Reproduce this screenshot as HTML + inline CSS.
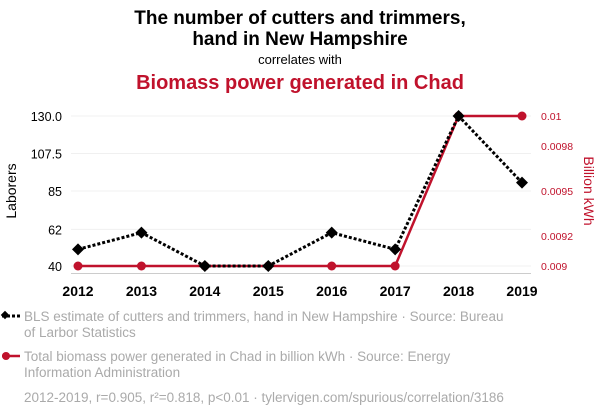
<!DOCTYPE html>
<html><head><meta charset="utf-8"><style>
body{margin:0;background:#fff;font-family:"Liberation Sans",sans-serif;}
#wrap{position:relative;width:600px;height:414px;overflow:hidden;}
</style></head><body>
<div id="wrap">
<svg id="chart" width="600" height="414">
<text x="300" y="24" text-anchor="middle" font-size="19" font-weight="bold" fill="#000">The number of cutters and trimmers,</text>
<text x="300" y="45" text-anchor="middle" font-size="19" font-weight="bold" fill="#000">hand in New Hampshire</text>
<text x="300" y="64" text-anchor="middle" font-size="13" fill="#000">correlates with</text>
<text x="300" y="89" text-anchor="middle" font-size="20" font-weight="bold" fill="#c0122c">Biomass power generated in Chad</text>
<g id="grid"></g><g id="axes"></g><g id="marks"></g>
<text transform="translate(16,191) rotate(-90)" text-anchor="middle" font-size="14" fill="#000">Laborers</text>
<text transform="translate(584,191) rotate(90)" text-anchor="middle" font-size="14" fill="#c0122c">Billion kWh</text>
<g>
<line x1="2" y1="316" x2="20" y2="316" stroke="#000" stroke-width="3" stroke-dasharray="3,2"/>
<rect x="2" y="312" width="6" height="6" transform="rotate(45 5 315)" fill="#000"/>
<text x="24" y="321" font-size="13.5" fill="#aaa">BLS estimate of cutters and trimmers, hand in New Hampshire · Source: Bureau</text>
<text x="24" y="337" font-size="13.5" fill="#aaa">of Larbor Statistics</text>
</g>
<g>
<line x1="2" y1="356" x2="20" y2="356" stroke="#c0122c" stroke-width="2.5"/>
<circle cx="6" cy="356" r="4" fill="#c0122c"/>
<text x="24" y="361" font-size="13.5" fill="#aaa">Total biomass power generated in Chad in billion kWh · Source: Energy</text>
<text x="24" y="377" font-size="13.5" fill="#aaa">Information Administration</text>
</g>
<text x="24" y="402" font-size="13.5" fill="#aaa">2012-2019, r=0.905, r²=0.818, p&lt;0.01 · tylervigen.com/spurious/correlation/3186</text>
</svg></div>
<script>
const years=[2012,2013,2014,2015,2016,2017,2018,2019];
const laborers=[50,60,40,40,60,50,130,90];
const biomass=[0.009,0.009,0.009,0.009,0.009,0.009,0.01,0.01];
const leftTicks=[40,62,85,107.5,130];
const leftTickLabels=["40","62","85","107.5","130.0"];
const rightTicks=[0.009,0.0092,0.0095,0.0098,0.01];
const rightTickLabels=["0.009","0.0092","0.0095","0.0098","0.01"];
const NS="http://www.w3.org/2000/svg";
const x=i=>78+i*(522-78)/(years.length-1);
const yL=v=>266-(v-40)/(130-40)*150;
const yR=v=>266-(v-0.009)/(0.01-0.009)*150;
function mk(t,a,p){const e=document.createElementNS(NS,t);for(const k in a)e.setAttribute(k,a[k]);p.appendChild(e);return e;}
const grid=document.getElementById('grid'),axes=document.getElementById('axes'),marks=document.getElementById('marks');
leftTicks.forEach((v,i)=>{
 const g=mk('line',{x1:71,x2:531,y1:yL(v),y2:yL(v),stroke:'#f0f0f0','stroke-width':1},grid);
 
 
 const t=mk('text',{x:62,y:yL(v)+5,'text-anchor':'end','font-size':12.5,fill:'#000'},axes);
 t.textContent=leftTickLabels[i];
 
 
});
rightTicks.forEach((v,i)=>{
 const t=mk('text',{x:541,y:yR(v)+4,'font-size':10.5,fill:'#c0122c'},axes);
 t.textContent=rightTickLabels[i];
 
 
});
const ax=mk('line',{x1:71,x2:531,y1:273.5,y2:273.5,stroke:'#ccc','stroke-width':1},axes);


years.forEach((yr,i)=>{
 const t=mk('text',{x:x(i),y:296,'text-anchor':'middle','font-size':14,'font-weight':'bold',fill:'#000'},axes);
 t.textContent=yr;
 
 
});
const rl=mk('polyline',{points:biomass.map((v,i)=>x(i)+','+yR(v)).join(' '),fill:'none',stroke:'#c0122c','stroke-width':2.5},marks);


const bl=mk('polyline',{points:laborers.map((v,i)=>x(i)+','+yL(v)).join(' '),fill:'none',stroke:'#000','stroke-width':3,'stroke-dasharray':'3,2'},marks);


biomass.forEach((v,i)=>{
 const c=mk('circle',{cx:x(i),cy:yR(v),r:4.5,fill:'#c0122c'},marks);
 
 
});
laborers.forEach((v,i)=>{
 const cx=x(i),cy=yL(v);
 const p=mk('polygon',{points:`${cx},${cy-6} ${cx+6},${cy} ${cx},${cy+6} ${cx-6},${cy}`,fill:'#000'},marks);
 
 
});
</script>
</body></html>
